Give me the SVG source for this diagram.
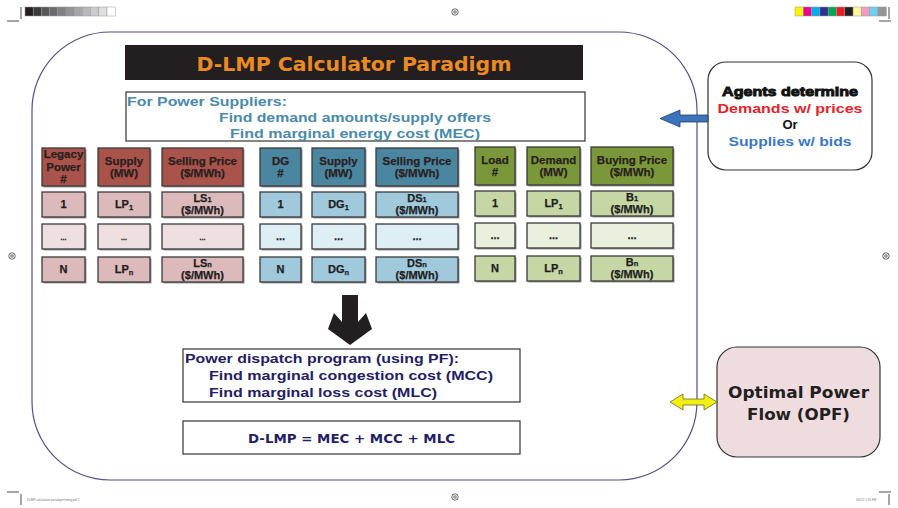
<svg xmlns="http://www.w3.org/2000/svg" width="898" height="508" viewBox="0 0 898 508">
<style>
text{font-family:"Liberation Sans",Arial,sans-serif;font-weight:bold}
.dv{font-family:"DejaVu Sans","Liberation Sans",sans-serif;font-weight:bold}
.c{text-anchor:middle}
.cell{stroke:#3a3a3a;stroke-width:1.3}
.hd{font-size:11.5px;fill:#2a1f1f;stroke:#2a1f1f;stroke-width:0.25}
.tx{font-size:11px;fill:#1e1e1e;stroke:#1e1e1e;stroke-width:0.25}
.lh{fill:#a9534b}.l1{fill:#dcb9bb}.l2{fill:#efdfe0}
.dh{fill:#4a86a0}.d1{fill:#a0cadc}.d2{fill:#ddeef5}
.gh{fill:#7a983a}.g1{fill:#c6d7a5}.g2{fill:#e9f0dd}
.sh{fill:#9a9a9a}
.box{fill:#fff;stroke:#333;stroke-width:1.2}
.sub{font-size:7.5px}
.crop{stroke:#222;stroke-width:0.8;fill:none}
</style>
<defs>
<g id="target"><circle r="3.2" fill="#fff" stroke="#333" stroke-width="0.8"/><circle r="1.8" fill="#444"/><path d="M-3.2 0H3.2M0 -3.2V3.2" stroke="#fff" stroke-width="0.6"/></g>
</defs>
<rect width="898" height="508" fill="#fff"/>
<!-- printer marks -->
<g id="marks">
<g stroke="#999" stroke-width="0.5">
<rect x="25" y="7" width="8.2" height="9" fill="#231f20"/><rect x="33.2" y="7" width="8.2" height="9" fill="#3e3b3c"/><rect x="41.4" y="7" width="8.2" height="9" fill="#58575a"/><rect x="49.6" y="7" width="8.2" height="9" fill="#6c6b6f"/><rect x="57.8" y="7" width="8.2" height="9" fill="#808084"/><rect x="66" y="7" width="8.2" height="9" fill="#939398"/><rect x="74.2" y="7" width="8.2" height="9" fill="#a6a6ab"/><rect x="82.4" y="7" width="8.2" height="9" fill="#b9b9bd"/><rect x="90.6" y="7" width="8.2" height="9" fill="#cccccf"/><rect x="98.8" y="7" width="8.2" height="9" fill="#e0e0e2"/><rect x="107" y="7" width="8.2" height="9" fill="#fff"/>
<rect x="795" y="7" width="8.3" height="9" fill="#fff200"/><rect x="803.3" y="7" width="8.3" height="9" fill="#ec008c"/><rect x="811.6" y="7" width="8.3" height="9" fill="#00aeef"/><rect x="819.9" y="7" width="8.3" height="9" fill="#2e3192"/><rect x="828.2" y="7" width="8.3" height="9" fill="#00a651"/><rect x="836.5" y="7" width="8.3" height="9" fill="#ed1c24"/><rect x="844.8" y="7" width="8.3" height="9" fill="#231f20"/><rect x="853.1" y="7" width="8.3" height="9" fill="#fff799"/><rect x="861.4" y="7" width="8.3" height="9" fill="#f49ac1"/><rect x="869.7" y="7" width="8.3" height="9" fill="#6dcff6"/><rect x="878" y="7" width="8.3" height="9" fill="#959595"/>
</g>
<path class="crop" d="M7 21H19M21 7V19M891 21H879M889 7V19M7 492H19M21 494V505M891 492H879M889 494V505"/>
<use href="#target" x="455" y="12"/>
<use href="#target" x="12" y="256"/>
<use href="#target" x="886" y="256"/>
<use href="#target" x="455" y="497"/>
<text x="27" y="501" style="font-size:3px;font-weight:normal;fill:#777">DLMP calculation paradigm bmng.pdf   1</text>
<text x="856" y="501" style="font-size:3px;font-weight:normal;fill:#777">3/6/12   1:55 PM</text>
</g>
<!-- main frame -->
<rect id="frame" x="32" y="32" width="665" height="448" rx="78" ry="78" fill="none" stroke="#5b4b8c" stroke-width="1.2"/>
<g id="title">
<rect x="125" y="45" width="458" height="35" fill="#231f20"/>
<text x="354" y="71" class="c dv" style="font-size:20px;fill:#ec8a23" textLength="315" lengthAdjust="spacingAndGlyphs">D-LMP Calculator Paradigm</text>
</g>
<g id="suppliers">
<rect class="box" x="126" y="92" width="459" height="49"/>
<g class="dv" style="font-size:12.5px;fill:#4a8aaa">
<text x="127" y="106" textLength="160" lengthAdjust="spacingAndGlyphs">For Power Suppliers:</text>
<text x="355" y="122" class="c" textLength="272" lengthAdjust="spacingAndGlyphs">Find demand amounts/supply offers</text>
<text x="355" y="138" class="c" textLength="250" lengthAdjust="spacingAndGlyphs">Find marginal energy cost (MEC)</text>
</g>
</g>
<g id="agents">
<rect x="708" y="62" width="164" height="108" rx="18" ry="18" fill="#fff" stroke="#333" stroke-width="1.2"/>
<g class="dv" style="font-size:13px">
<text x="790" y="96" class="c" style="fill:#111;stroke:#111;stroke-width:0.9" textLength="136" lengthAdjust="spacingAndGlyphs">Agents determine</text>
<text x="790" y="113" class="c" style="fill:#e3232b" textLength="145" lengthAdjust="spacingAndGlyphs">Demands w/ prices</text>
<text x="790" y="129" class="c" style="fill:#111">Or</text>
<text x="790" y="146" class="c" style="fill:#3a78c6" textLength="123" lengthAdjust="spacingAndGlyphs">Supplies w/ bids</text>
</g>
</g>
<!-- legacy table -->
<g id="legacy">
<rect class="sh" x="43.5" y="149.5" width="43" height="38"/><rect class="cell lh" x="42" y="148" width="43" height="38"/>
<rect class="sh" x="99.5" y="149.5" width="52" height="38"/><rect class="cell lh" x="98" y="148" width="52" height="38"/>
<rect class="sh" x="163.5" y="149.5" width="81" height="38"/><rect class="cell lh" x="162" y="148" width="81" height="38"/>
<text class="hd c" x="63.5" y="158">Legacy</text><text class="hd c" x="63.5" y="171">Power</text><text class="hd c" x="63.5" y="183">#</text>
<text class="hd c" x="124" y="165">Supply</text><text class="hd c" x="124" y="177">(MW)</text>
<text class="hd c" x="202.5" y="165">Selling Price</text><text class="hd c" x="202.5" y="177">($/MWh)</text>
<rect class="sh" x="43.5" y="193.5" width="43" height="25"/><rect class="cell l1" x="42" y="192" width="43" height="25"/>
<rect class="sh" x="99.5" y="193.5" width="52" height="25"/><rect class="cell l1" x="98" y="192" width="52" height="25"/>
<rect class="sh" x="163.5" y="193.5" width="81" height="25"/><rect class="cell l1" x="162" y="192" width="81" height="25"/>
<text class="tx c" x="63.5" y="208">1</text>
<text class="tx c" x="124" y="208">LP<tspan class="sub" dy="2">1</tspan></text>
<text class="tx c" x="202.5" y="202">LS<tspan class="sub">1</tspan></text><text class="tx c" x="202.5" y="214">($/MWh)</text>
<rect class="sh" x="43.5" y="225.5" width="43" height="25"/><rect class="cell l2" x="42" y="224" width="43" height="25"/>
<rect class="sh" x="99.5" y="225.5" width="52" height="25"/><rect class="cell l2" x="98" y="224" width="52" height="25"/>
<rect class="sh" x="163.5" y="225.5" width="81" height="25"/><rect class="cell l2" x="162" y="224" width="81" height="25"/>
<text class="tx c" x="63.5" y="240" style="font-size:7px">...</text><text class="tx c" x="124" y="240" style="font-size:7px">...</text><text class="tx c" x="202.5" y="240" style="font-size:7px">...</text>
<rect class="sh" x="43.5" y="258.5" width="43" height="25"/><rect class="cell l1" x="42" y="257" width="43" height="25"/>
<rect class="sh" x="99.5" y="258.5" width="52" height="25"/><rect class="cell l1" x="98" y="257" width="52" height="25"/>
<rect class="sh" x="163.5" y="258.5" width="81" height="25"/><rect class="cell l1" x="162" y="257" width="81" height="25"/>
<text class="tx c" x="63.5" y="273">N</text>
<text class="tx c" x="124" y="273">LP<tspan class="sub" dy="2">n</tspan></text>
<text class="tx c" x="202.5" y="267">LS<tspan class="sub">n</tspan></text><text class="tx c" x="202.5" y="279">($/MWh)</text>
</g>
<!-- DG table -->
<g id="dg">
<rect class="sh" x="261.5" y="149.5" width="41" height="38"/><rect class="cell dh" x="260" y="148" width="41" height="38"/>
<rect class="sh" x="313.5" y="149.5" width="53" height="38"/><rect class="cell dh" x="312" y="148" width="53" height="38"/>
<rect class="sh" x="377.5" y="149.5" width="82" height="38"/><rect class="cell dh" x="376" y="148" width="82" height="38"/>
<text class="hd c" x="280.5" y="165">DG</text><text class="hd c" x="280.5" y="177">#</text>
<text class="hd c" x="338.5" y="165">Supply</text><text class="hd c" x="338.5" y="177">(MW)</text>
<text class="hd c" x="417" y="165">Selling Price</text><text class="hd c" x="417" y="177">($/MWh)</text>
<rect class="sh" x="261.5" y="193.5" width="41" height="25"/><rect class="cell d1" x="260" y="192" width="41" height="25"/>
<rect class="sh" x="313.5" y="193.5" width="53" height="25"/><rect class="cell d1" x="312" y="192" width="53" height="25"/>
<rect class="sh" x="377.5" y="193.5" width="82" height="25"/><rect class="cell d1" x="376" y="192" width="82" height="25"/>
<text class="tx c" x="280.5" y="208">1</text>
<text class="tx c" x="338.5" y="208">DG<tspan class="sub" dy="2">1</tspan></text>
<text class="tx c" x="417" y="202">DS<tspan class="sub">1</tspan></text><text class="tx c" x="417" y="214">($/MWh)</text>
<rect class="sh" x="261.5" y="225.5" width="41" height="25"/><rect class="cell d2" x="260" y="224" width="41" height="25"/>
<rect class="sh" x="313.5" y="225.5" width="53" height="25"/><rect class="cell d2" x="312" y="224" width="53" height="25"/>
<rect class="sh" x="377.5" y="225.5" width="82" height="25"/><rect class="cell d2" x="376" y="224" width="82" height="25"/>
<text class="tx c" x="280.5" y="240">...</text><text class="tx c" x="338.5" y="240">...</text><text class="tx c" x="417" y="240">...</text>
<rect class="sh" x="261.5" y="258.5" width="41" height="25"/><rect class="cell d1" x="260" y="257" width="41" height="25"/>
<rect class="sh" x="313.5" y="258.5" width="53" height="25"/><rect class="cell d1" x="312" y="257" width="53" height="25"/>
<rect class="sh" x="377.5" y="258.5" width="82" height="25"/><rect class="cell d1" x="376" y="257" width="82" height="25"/>
<text class="tx c" x="280.5" y="273">N</text>
<text class="tx c" x="338.5" y="273">DG<tspan class="sub" dy="2">n</tspan></text>
<text class="tx c" x="417" y="267">DS<tspan class="sub">n</tspan></text><text class="tx c" x="417" y="279">($/MWh)</text>
</g>
<!-- Load table -->
<g id="load">
<rect class="sh" x="476.5" y="148.5" width="40" height="38"/><rect class="cell gh" x="475" y="147" width="40" height="38"/>
<rect class="sh" x="528.5" y="148.5" width="53" height="38"/><rect class="cell gh" x="527" y="147" width="53" height="38"/>
<rect class="sh" x="592.5" y="148.5" width="82" height="38"/><rect class="cell gh" x="591" y="147" width="82" height="38"/>
<text class="hd c" x="495" y="164">Load</text><text class="hd c" x="495" y="176">#</text>
<text class="hd c" x="553.5" y="164">Demand</text><text class="hd c" x="553.5" y="176">(MW)</text>
<text class="hd c" x="632" y="164">Buying Price</text><text class="hd c" x="632" y="176">($/MWh)</text>
<rect class="sh" x="476.5" y="192.5" width="40" height="25"/><rect class="cell g1" x="475" y="191" width="40" height="25"/>
<rect class="sh" x="528.5" y="192.5" width="53" height="25"/><rect class="cell g1" x="527" y="191" width="53" height="25"/>
<rect class="sh" x="592.5" y="192.5" width="82" height="25"/><rect class="cell g1" x="591" y="191" width="82" height="25"/>
<text class="tx c" x="495" y="207">1</text>
<text class="tx c" x="553.5" y="207">LP<tspan class="sub" dy="2">1</tspan></text>
<text class="tx c" x="632" y="201">B<tspan class="sub">1</tspan></text><text class="tx c" x="632" y="213">($/MWh)</text>
<rect class="sh" x="476.5" y="224.5" width="40" height="25"/><rect class="cell g2" x="475" y="223" width="40" height="25"/>
<rect class="sh" x="528.5" y="224.5" width="53" height="25"/><rect class="cell g2" x="527" y="223" width="53" height="25"/>
<rect class="sh" x="592.5" y="224.5" width="82" height="25"/><rect class="cell g2" x="591" y="223" width="82" height="25"/>
<text class="tx c" x="495" y="239">...</text><text class="tx c" x="553.5" y="239">...</text><text class="tx c" x="632" y="239">...</text>
<rect class="sh" x="476.5" y="257.5" width="40" height="25"/><rect class="cell g1" x="475" y="256" width="40" height="25"/>
<rect class="sh" x="528.5" y="257.5" width="53" height="25"/><rect class="cell g1" x="527" y="256" width="53" height="25"/>
<rect class="sh" x="592.5" y="257.5" width="82" height="25"/><rect class="cell g1" x="591" y="256" width="82" height="25"/>
<text class="tx c" x="495" y="272">N</text>
<text class="tx c" x="553.5" y="272">LP<tspan class="sub" dy="2">n</tspan></text>
<text class="tx c" x="632" y="266">B<tspan class="sub">n</tspan></text><text class="tx c" x="632" y="278">($/MWh)</text>
</g>
<g id="dispatch">
<rect class="box" x="183" y="349" width="337" height="53"/>
<g class="dv" style="font-size:12.5px;fill:#1f2163">
<text x="185" y="363" textLength="274" lengthAdjust="spacingAndGlyphs">Power dispatch program (using PF):</text>
<text x="209" y="380" textLength="284" lengthAdjust="spacingAndGlyphs">Find marginal congestion cost (MCC)</text>
<text x="209" y="397" textLength="228" lengthAdjust="spacingAndGlyphs">Find marginal loss cost (MLC)</text>
</g>
</g>
<g id="dlmp">
<rect class="box" x="183" y="421" width="337" height="33"/>
<text x="351.5" y="443" class="c dv" style="font-size:12.5px;fill:#1f2163" textLength="207" lengthAdjust="spacingAndGlyphs">D-LMP = MEC + MCC + MLC</text>
</g>
<g id="opf">
<rect x="717" y="347" width="163" height="110" rx="20" ry="20" fill="#efdcdf" stroke="#333" stroke-width="1.2"/>
<text x="798.5" y="398" class="c dv" style="font-size:16px;fill:#231f20" textLength="141" lengthAdjust="spacingAndGlyphs">Optimal Power</text>
<text x="798.5" y="420" class="c dv" style="font-size:16px;fill:#231f20" textLength="103" lengthAdjust="spacingAndGlyphs">Flow (OPF)</text>
</g>
<g id="connectors">
<polygon points="342,295 358,295 358,322 366,313 372,329 350,345 328,329 334,313 342,322" fill="#231f20"/>
<polygon points="708,115 680,115 680,110 660,118.5 680,127 680,122 708,122" fill="#3d73b9" stroke="#1f3f70" stroke-width="0.8"/>
<polygon points="670,402 683,394 683,399 704,399 704,394 717,402 704,410 704,405 683,405 683,410" fill="#f2ee12" stroke="#6a6a20" stroke-width="0.8"/>
</g>
</svg>
